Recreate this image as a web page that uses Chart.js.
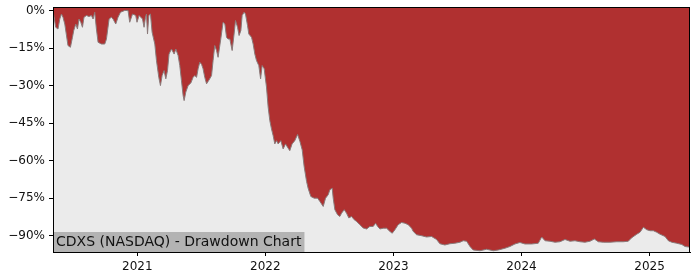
<!DOCTYPE html>
<html>
<head>
<meta charset="utf-8">
<script src="https://cdn.jsdelivr.net/npm/chart.js@4"></script>
<style>
  body { margin: 0; background: #ffffff; }
  #wrap { width: 700px; height: 280px; }
</style>
</head>
<body>
<div id="wrap"><canvas id="ddChart" width="700" height="280"></canvas></div>
<script>
// decimal-year positions of the drawdown readings
const dates = [
  2020.342, 2020.348, 2020.363, 2020.381, 2020.395, 2020.408, 2020.420, 2020.434, 2020.459, 2020.478,
  2020.494, 2020.504, 2020.520, 2020.533, 2020.545, 2020.559, 2020.572, 2020.584, 2020.603, 2020.623,
  2020.642, 2020.655, 2020.668, 2020.681, 2020.694, 2020.720, 2020.746, 2020.759, 2020.780, 2020.798,
  2020.811, 2020.832, 2020.850, 2020.869, 2020.902, 2020.928, 2020.941, 2020.963, 2020.988, 2020.998,
  2021.014, 2021.041, 2021.053, 2021.064, 2021.072, 2021.080, 2021.090, 2021.103, 2021.116, 2021.137,
  2021.150, 2021.168, 2021.181, 2021.194, 2021.209, 2021.223, 2021.236, 2021.248, 2021.267, 2021.288,
  2021.301, 2021.319, 2021.332, 2021.345, 2021.358, 2021.366, 2021.379, 2021.397, 2021.418, 2021.436,
  2021.449, 2021.463, 2021.475, 2021.488, 2021.502, 2021.514, 2021.527, 2021.541, 2021.566, 2021.580,
  2021.592, 2021.605, 2021.619, 2021.631, 2021.652, 2021.670, 2021.684, 2021.697, 2021.709, 2021.723,
  2021.741, 2021.756, 2021.767, 2021.783, 2021.795, 2021.809, 2021.819, 2021.834, 2021.845, 2021.861,
  2021.871, 2021.892, 2021.905, 2021.918, 2021.931, 2021.949, 2021.963, 2021.975, 2021.991, 2022.009,
  2022.022, 2022.035, 2022.048, 2022.061, 2022.074, 2022.088, 2022.100, 2022.121, 2022.139, 2022.158,
  2022.173, 2022.191, 2022.209, 2022.230, 2022.252, 2022.270, 2022.288, 2022.303, 2022.322, 2022.334,
  2022.355, 2022.381, 2022.408, 2022.426, 2022.452, 2022.470, 2022.491, 2022.504, 2022.522, 2022.530,
  2022.543, 2022.564, 2022.582, 2022.595, 2022.616, 2022.634, 2022.652, 2022.673, 2022.694, 2022.713,
  2022.738, 2022.764, 2022.791, 2022.816, 2022.842, 2022.861, 2022.877, 2022.895, 2022.920, 2022.947,
  2022.973, 2022.991, 2023.012, 2023.037, 2023.064, 2023.090, 2023.116, 2023.142, 2023.155, 2023.181,
  2023.220, 2023.259, 2023.298, 2023.337, 2023.363, 2023.402, 2023.441, 2023.480, 2023.520, 2023.545,
  2023.572, 2023.598, 2023.623, 2023.676, 2023.728, 2023.780, 2023.819, 2023.871, 2023.910, 2023.949,
  2023.988, 2024.027, 2024.080, 2024.131, 2024.158, 2024.184, 2024.223, 2024.262, 2024.301, 2024.340,
  2024.379, 2024.418, 2024.457, 2024.496, 2024.535, 2024.569, 2024.600, 2024.639, 2024.691, 2024.744,
  2024.795, 2024.834, 2024.861, 2024.900, 2024.926, 2024.952, 2024.978, 2025.004, 2025.030, 2025.056,
  2025.082, 2025.121, 2025.147, 2025.174, 2025.213, 2025.252, 2025.277, 2025.303, 2025.316
];
// drawdown from running peak, percent
const drawdown = [
  0, 0, -6.7, -7.4, -3.4, -1.4, -2.7, -5.4, -14, -14.7,
  -10.7, -8, -5.4, -7.4, -3.4, -4.7, -6.7, -2.7, -2, -2.4,
  -2, -3.4, -0.7, -7.4, -12.7, -13.4, -13.4, -11.5, -3.4, -2.7,
  -3.4, -5.4, -2.7, -0.7, 0, 0, -4.7, -1.4, -2, -4.7,
  -2, -3.4, -6.7, -2.7, -1.4, -9.4, -2, -1.4, -8.7, -13.4,
  -20, -26.7, -30, -26, -24, -27.3, -24, -17.4, -15.4, -17.4,
  -15.4, -18, -22, -28, -34, -36, -32.6, -30, -29, -26.7,
  -26, -26.7, -23.3, -20.7, -21.5, -23.3, -26.7, -29.3, -27.3, -26,
  -20, -14, -16, -18.7, -11.4, -4.7, -5.4, -10.7, -11.4, -11.4,
  -16, -9.4, -4, -6.7, -10, -8, -2, -0.7, -1.4, -6,
  -9.4, -10.7, -13.4, -17.4, -20, -22, -27.3, -22, -23.3, -30.6,
  -38.6, -44, -47.3, -50, -53.3, -52, -53.3, -52, -55.3, -53.3,
  -54.6, -56, -53.3, -52, -49.5, -52.3, -55.7, -62.3, -68.3, -71,
  -74.3, -75, -75, -76.3, -78.3, -75, -73.6, -71.6, -71, -75,
  -79.6, -81.6, -82.3, -81, -79.6, -81, -82.9, -82.3, -83.6, -84.3,
  -85.6, -86.9, -87.3, -86.3, -86.3, -85, -86.3, -87.3, -87, -87,
  -88.3, -89, -87.6, -85.6, -84.7, -85, -85.6, -87, -88.3, -89.6,
  -90, -90.5, -90.3, -91.5, -93.2, -93.7, -93.2, -93, -92.6, -92,
  -92.2, -94.3, -95.7, -96, -95.4, -96, -95.7, -95, -94.3, -93.3,
  -92.7, -93.3, -93.3, -93, -90.5, -92, -92.2, -92.6, -92.4, -91.5,
  -92.2, -92, -92.4, -92.6, -92.2, -91.3, -92.4, -92.6, -92.6, -92.4,
  -92.4, -92.2, -90.8, -89.4, -88.6, -86.6, -87.6, -88, -88, -88.6,
  -89.4, -90.3, -92, -92.6, -93, -93.5, -94.3, -94.5, -94.5
];
const yTicks = [0, -15, -30, -45, -60, -75, -90];
const xTicks = [2021, 2022, 2023, 2024, 2025];
const chartLabel = 'CDXS (NASDAQ) - Drawdown Chart';

const FONT = 'DejaVu Sans';

// grey plot background, frame and the caption box
const panelPlugin = {
  id: 'panel',
  beforeDatasetsDraw(chart) {
    const a = chart.chartArea, ctx = chart.ctx;
    ctx.save();
    ctx.fillStyle = '#ebebeb';
    ctx.fillRect(a.left, a.top, a.right - a.left, a.bottom - a.top);
    ctx.restore();
  },
  afterDraw(chart) {
    const a = chart.chartArea, ctx = chart.ctx;
    ctx.save();
    ctx.font = '14px "' + FONT + '"';
    const w = ctx.measureText(chartLabel).width;
    ctx.fillStyle = '#b3b3b3';
    ctx.fillRect(a.left, a.bottom - 20, w + 6, 20);
    ctx.fillStyle = '#111111';
    ctx.textBaseline = 'middle';
    ctx.fillText(chartLabel, a.left + 3, a.bottom - 9.5);
    ctx.strokeStyle = '#000000';
    ctx.lineWidth = 1;
    ctx.strokeRect(a.left + 0.5, a.top + 0.5, a.right - a.left - 1, a.bottom - a.top);
    ctx.restore();
  }
};

const points = dates.map((d, i) => ({ x: d, y: drawdown[i] }));

new Chart(document.getElementById('ddChart'), {
  type: 'line',
  data: {
    datasets: [{
      data: points,
      fill: 'end',
      backgroundColor: '#b03030',
      borderColor: '#8a7a7a',
      borderWidth: 1,
      pointRadius: 0,
      tension: 0
    }]
  },
  options: {
    responsive: false,
    animation: false,
    layout: { padding: { top: 7, right: 10, left: 0, bottom: 0 } },
    plugins: { legend: { display: false }, tooltip: { enabled: false } },
    scales: {
      x: {
        type: 'linear',
        min: 2020.342,
        max: 2025.316,
        afterBuildTicks: s => { s.ticks = xTicks.map(v => ({ value: v })); },
        afterFit: s => { s.height = 28; s.paddingLeft = 0; s.paddingRight = 0; },
        ticks: {
          color: '#111111',
          font: { family: FONT, size: 12 },
          padding: 4,
          maxRotation: 0,
          callback: v => String(v)
        },
        grid: { drawOnChartArea: false, tickLength: 4, color: '#000000' },
        border: { color: '#000000', width: 1 }
      },
      y: {
        min: -96.5,
        max: 1.4,
        afterBuildTicks: s => { s.ticks = yTicks.map(v => ({ value: v })); },
        afterFit: s => { s.width = 53; s.paddingTop = 0; s.paddingBottom = 0; },
        ticks: {
          color: '#111111',
          font: { family: FONT, size: 12 },
          padding: 4,
          callback: v => (v < 0 ? '\u2212' + Math.abs(v) : v) + '%'
        },
        grid: { drawOnChartArea: false, tickLength: 4, color: '#000000' },
        border: { color: '#000000', width: 1 }
      }
    }
  },
  plugins: [panelPlugin]
});
</script>
</body>
</html>
